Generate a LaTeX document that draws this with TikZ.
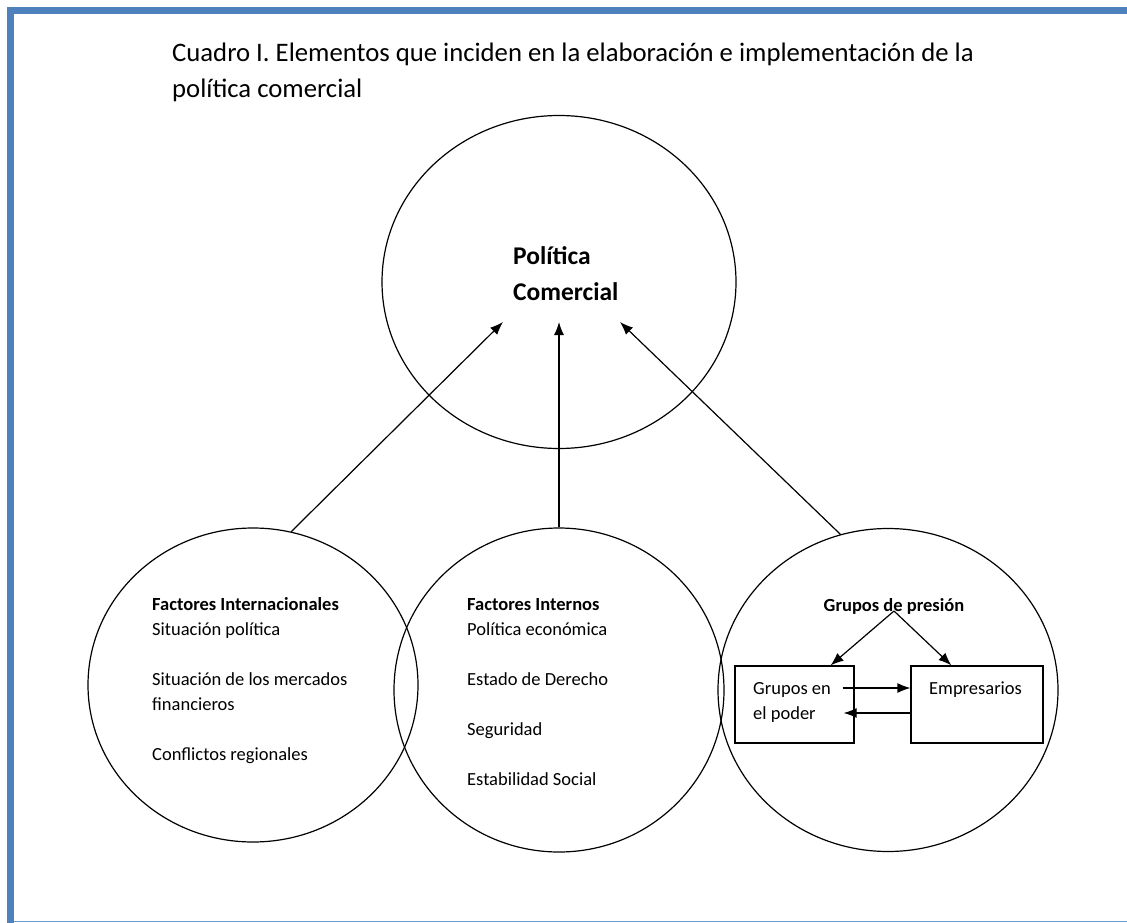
\documentclass[tikz,border=0pt]{standalone}
\usepackage{fontspec}
\setmainfont{Carlito}
\usepackage{tikz}
\usepackage{xcolor}
\usetikzlibrary{shapes,arrows,arrows.meta,calc}
\definecolor{frameblue}{RGB}{79,129,189}
\definecolor{lineblue}{RGB}{110,155,215}

\begin{document}
\begin{tikzpicture}[x=1pt,y=-1pt]
    % Define styles
    \tikzstyle{circ} = [ellipse, draw, line width=1.2pt, inner sep=0pt]
    \tikzstyle{box} = [rectangle, draw, line width=1.2pt, minimum width=119pt, minimum height=77pt, inner sep=0pt]
    \tikzstyle{txt} = [anchor=base west, align=left, inner sep=0pt, font=\fontsize{18.5}{25}\selectfont]
    \tikzstyle{arrow} = [line width=1.2pt,->,>={Latex[length=13pt,width=10pt]}]

    \useasboundingbox (0,0) rectangle (1127,923);

    % Frame
    \fill[frameblue] (7,7) rectangle (1127,14);
    \fill[frameblue] (7,7) rectangle (14,923);
    \draw[lineblue, line width=1.5pt] (14,921.5) -- (1127,921.5);

    % Title (base = last line)
    \node[anchor=base west, align=left, inner sep=0pt, font=\fontsize{26.7}{36}\selectfont] (title) at (172,98)
        {Cuadro I. Elementos que inciden en la elaboración e implementación de la\\política comercial};

    % Circles
    \node[circ, minimum width=354pt, minimum height=333pt] (politica) at (559,282) {};
    \node[circ, minimum width=330pt, minimum height=314pt] (intl) at (253,685) {};
    \node[circ, minimum width=330pt, minimum height=324pt] (intern) at (559,690) {};
    \node[circ, minimum width=340pt, minimum height=323pt] (presion) at (888,690) {};

    \node[font=\bfseries\fontsize{25.5}{36}\selectfont, align=left, anchor=west, inner sep=0pt] (pctxt) at (513,274) {Política\\Comercial};

    % Texts of the circles
    \node[txt] (intltxt) at (152,760) {\textbf{Factores Internacionales}\\Situación política\\[25pt]Situación de los mercados\\financieros\\[25pt]Conflictos regionales};
    \node[txt] (interntxt) at (467,785) {\textbf{Factores Internos}\\Política económica\\[25pt]Estado de Derecho\\[25pt]Seguridad\\[25pt]Estabilidad Social};
    \node[txt, anchor=base, font=\bfseries\fontsize{18.5}{25}\selectfont] (presiontxt) at (894,611) {Grupos de presión};

    % Boxes
    \node[box] (gpoder) at (794.5,704.5) {};
    \node[box, minimum width=132pt] (empres) at (977,704.5) {};
    \node[txt] (gpodertxt) at (753,719) {Grupos en\\el poder};
    \node[txt] (emprestxt) at (929,694) {Empresarios};

    % Arrows
    \coordinate (tipA) at (503,322);
    \coordinate (tipB) at (559,322);
    \coordinate (tipC) at (620,322);
    \draw[arrow] (intl.76) -- (tipA);
    \draw[arrow] (intern.north) -- (tipB);
    \draw[arrow] (presion.107) -- (tipC);

    \draw[arrow] (presiontxt.base) -- ([xshift=-24pt]gpoder.north east);
    \draw[arrow] (presiontxt.base) -- ([xshift=41pt]empres.north west);
    \draw[arrow] ([shift={(-12,-16.5)}]gpoder.east) -- ([shift={(0,-16.5)}]empres.west);
    \draw[arrow] ([shift={(0,8.5)}]empres.west) -- ([shift={(-11,8.5)}]gpoder.east);

\end{tikzpicture}
\end{document}
